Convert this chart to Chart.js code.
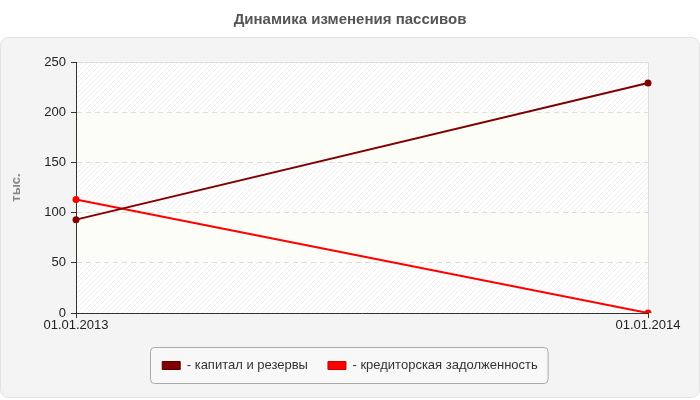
<!DOCTYPE html>
<html>
<head>
<meta charset="utf-8">
<script src="https://cdn.jsdelivr.net/npm/chart.js@4/dist/chart.umd.min.js"></script>
<style>
  html, body { margin: 0; padding: 0; background: #fff; }
  #wrap { width: 700px; height: 400px; }
</style>
</head>
<body>
<div id="wrap"><canvas id="chart"></canvas></div>
<script>
// data
const categories = ['01.01.2013', '01.01.2014'];
const capital = [93, 229];
const payables = [113, 0];
const seriesNames = ['капитал и резервы', 'кредиторская задолженность'];
const yMax = 250;
const yStep = 50;

// diagonal hatch for the plot background
function hatch() {
  const c = document.createElement('canvas');
  c.width = 5; c.height = 5;
  const g = c.getContext('2d');
  g.fillStyle = '#ffffff';
  g.fillRect(0, 0, 5, 5);
  g.fillStyle = '#efefef';
  for (let i = 0; i < 5; i++) g.fillRect(4 - i, i, 1, 1);
  return g.createPattern(c, 'repeat');
}

function roundRect(ctx, x, y, w, h, r) {
  ctx.beginPath();
  ctx.moveTo(x + r, y);
  ctx.arcTo(x + w, y, x + w, y + h, r);
  ctx.arcTo(x + w, y + h, x, y + h, r);
  ctx.arcTo(x, y + h, x, y, r);
  ctx.arcTo(x, y, x + w, y, r);
  ctx.closePath();
}

const backdrop = {
  id: 'backdrop',
  beforeDraw(chart) {
    const ctx = chart.ctx;
    const a = chart.chartArea;
    const y = chart.scales.y;
    ctx.save();
    // grey panel
    roundRect(ctx, 0.5, 37.5, 699, 360, 8);
    ctx.fillStyle = '#f4f4f4';
    ctx.fill();
    ctx.strokeStyle = '#e2e2e2';
    ctx.lineWidth = 1;
    ctx.stroke();

    // plot area with alternating bands
    ctx.fillStyle = hatch();
    ctx.fillRect(a.left, a.top, a.right - a.left, a.bottom - a.top);
    ctx.fillStyle = '#fdfdf7';
    for (let v = yStep; v < yMax; v += 2 * yStep) {
      const t = y.getPixelForValue(v + yStep);
      const b = y.getPixelForValue(v);
      ctx.fillRect(a.left, t, a.right - a.left, b - t);
    }
    // light top and right edges
    ctx.strokeStyle = '#dddddd';
    ctx.beginPath();
    ctx.moveTo(a.left, a.top + 0.5);
    ctx.lineTo(a.right + 0.5, a.top + 0.5);
    ctx.lineTo(a.right + 0.5, a.bottom);
    ctx.stroke();

    // legend frame
    const boxes = chart.legend.legendHitBoxes;
    if (boxes && boxes.length) {
      let l = Infinity, r = -Infinity, t = Infinity, btm = -Infinity;
      boxes.forEach(h => {
        l = Math.min(l, h.left); r = Math.max(r, h.left + h.width);
        t = Math.min(t, h.top); btm = Math.max(btm, h.top + h.height);
      });
      roundRect(ctx, Math.round(l) - 11.5, Math.round(t) - 11.5, r - l + 22, btm - t + 23, 4);
      ctx.fillStyle = '#f8f8f8';
      ctx.fill();
      ctx.strokeStyle = '#aaaaaa';
      ctx.stroke();
    }
    ctx.restore();
  }
};

const colors = ['#800000', '#ff0000'];
const family = 'Arial, "Liberation Sans", sans-serif';
const font = { family: family, size: 13 };

new Chart(document.getElementById('chart'), {
  type: 'line',
  data: {
    labels: categories,
    datasets: [
      {
        label: seriesNames[0],
        data: capital,
        borderColor: colors[0],
        backgroundColor: colors[0],
        borderWidth: 2,
        pointRadius: 3.5,
        pointBorderWidth: 0,
        tension: 0
      },
      {
        label: seriesNames[1],
        data: payables,
        borderColor: colors[1],
        backgroundColor: colors[1],
        borderWidth: 2,
        pointRadius: 3.5,
        pointBorderWidth: 0,
        tension: 0
      }
    ]
  },
  options: {
    responsive: true,
    maintainAspectRatio: false,
    animation: false,
    devicePixelRatio: 1,
    layout: { padding: { left: 8, right: 8, top: 0, bottom: 18 } },
    scales: {
      x: {
        offset: false,
        afterFit(scale) { scale.height = 26; scale.paddingRight = 52; },
        border: { color: '#333333', width: 1 },
        grid: { drawOnChartArea: false, tickLength: 5, tickColor: '#333333' },
        ticks: { color: '#222222', font: font, padding: 0, maxRotation: 0 }
      },
      y: {
        min: 0,
        max: yMax,
        afterFit(scale) { scale.width = 68; },
        border: {
          color: '#333333',
          width: 1,
          dash: [5, 4]
        },
        grid: {
          tickLength: 5,
          tickColor: '#333333',
          color: ctx => (ctx.tick && (ctx.tick.value === 0 || ctx.tick.value === yMax)) ? 'rgba(0,0,0,0)' : '#dddddd'
        },
        ticks: { stepSize: yStep, color: '#222222', font: font, padding: 5 },
        title: {
          display: true,
          text: 'тыс.',
          color: '#888888',
          font: { family: family, size: 13, weight: 'bold' },
          padding: { top: 1, bottom: 0 }
        }
      }
    },
    plugins: {
      title: {
        display: true,
        text: 'Динамика изменения пассивов',
        color: '#555555',
        font: { family: family, size: 15, weight: 'bold' },
        padding: { top: 11, bottom: 33 }
      },
      legend: {
        position: 'bottom',
        labels: {
          color: '#333333',
          font: font,
          boxWidth: 18,
          boxHeight: 8,
          padding: 20,
          useBorderRadius: true,
          borderRadius: 2,
          generateLabels(chart) {
            return chart.data.datasets.map((ds, i) => ({
              text: '- ' + ds.label,
              fillStyle: ds.borderColor,
              strokeStyle: i === 0 ? '#5a0000' : '#cc0000',
              lineWidth: 1,
              fontColor: '#333333',
              datasetIndex: i
            }));
          }
        }
      },
      tooltip: { enabled: false }
    }
  },
  plugins: [backdrop]
});
</script>
</body>
</html>
